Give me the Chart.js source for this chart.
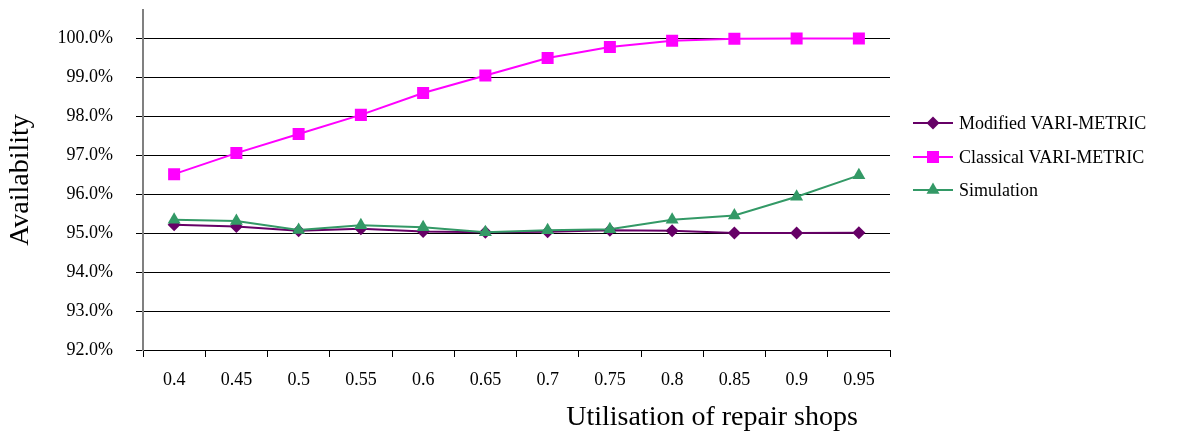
<!DOCTYPE html>
<html>
<head>
<meta charset="utf-8">
<script src="https://cdn.jsdelivr.net/npm/chart.js@4/dist/chart.umd.min.js"></script>
<style>
  html,body{margin:0;padding:0;background:#fff}
  #wrap{position:relative;width:1186px;height:434px}
</style>
</head>
<body>
<div id="wrap"><canvas id="chart" width="1186" height="434"></canvas></div>
<script>
// ── Data ──
var categories=['0.4','0.45','0.5','0.55','0.6','0.65','0.7','0.75','0.8','0.85','0.9','0.95'];
var modifiedVals=[95.21,95.17,95.06,95.11,95.04,95.02,95.03,95.07,95.06,95.00,95.00,95.01];
var classicalVals=[96.51,97.05,97.54,98.03,98.59,99.04,99.49,99.77,99.93,99.98,99.99,99.99];
var simulationVals=[95.34,95.31,95.08,95.20,95.15,95.02,95.07,95.10,95.34,95.45,95.93,96.48];
var yTicks=[92,93,94,95,96,97,98,99,100];
var seriesNames=['Modified VARI-METRIC','Classical VARI-METRIC','Simulation'];
var yTitle='Availability', xTitle='Utilisation of repair shops';

var SERIF='"Liberation Serif","Times New Roman",serif';
var COLORS=['#660066','#FF00FF','#339966'];
var STYLES=['rectRot','rect','triangle'];
var RADII=[6.5,8.5,7.5];

// ── Custom legend + axis titles (Excel look) ──
var extrasPlugin={
  id:'extras',
  afterDraw:function(chart){
    var ctx=chart.ctx;
    ctx.save();
    ctx.fillStyle='#000';
    ctx.font='28px '+SERIF;
    ctx.textAlign='center';ctx.textBaseline='middle';
    ctx.fillText(xTitle,712,418);
    ctx.translate(21,180);ctx.rotate(-Math.PI/2);
    ctx.fillText(yTitle,0,0);
    ctx.restore();

    var ys=[123,157,190];
    seriesNames.forEach(function(name,i){
      var y=ys[i];
      ctx.save();
      ctx.strokeStyle=COLORS[i];ctx.lineWidth=2;
      ctx.beginPath();ctx.moveTo(913,y);ctx.lineTo(953,y);ctx.stroke();
      ctx.fillStyle=COLORS[i];
      Chart.helpers.drawPoint(ctx,{pointStyle:STYLES[i],radius:RADII[i],borderWidth:0},933,y);
      ctx.fillStyle='#000';
      ctx.font='18px '+SERIF;
      ctx.textAlign='left';ctx.textBaseline='middle';
      ctx.fillText(name,959,y+1);
      ctx.restore();
    });
  }
};

function mkSet(i,vals,order){
  return {
    label:seriesNames[i],data:vals,order:order,
    borderColor:COLORS[i],backgroundColor:COLORS[i],borderWidth:2,
    pointStyle:STYLES[i],pointRadius:RADII[i],pointHoverRadius:RADII[i],
    pointBackgroundColor:COLORS[i],pointBorderColor:COLORS[i],pointBorderWidth:0,
    tension:0,fill:false
  };
}

new Chart(document.getElementById('chart'),{
  type:'line',
  data:{
    labels:categories,
    datasets:[mkSet(0,modifiedVals,3),mkSet(1,classicalVals,2),mkSet(2,simulationVals,1)]
  },
  plugins:[extrasPlugin],
  options:{
    responsive:false,animation:false,
    layout:{padding:{left:0,right:296,top:10,bottom:0}},
    plugins:{legend:{display:false},tooltip:{enabled:false}},
    scales:{
      x:{
        type:'category',offset:true,
        grid:{offset:true,drawOnChartArea:false,drawTicks:true,tickLength:7,color:'#000',lineWidth:1},
        border:{display:true,color:'#000',width:1},
        ticks:{color:'#000',font:{family:SERIF,size:18},padding:12,maxRotation:0,autoSkip:false},
        afterFit:function(s){s.height=84;s.paddingLeft=0;s.paddingRight=0}
      },
      y:{
        min:92,max:100.72,
        afterBuildTicks:function(s){s.ticks=yTicks.map(function(v){return {value:v}})},
        grid:{color:'#000',lineWidth:1,drawTicks:true,tickLength:7},
        border:{display:true,color:'#808080',width:2},
        ticks:{color:'#000',font:{family:SERIF,size:18},padding:23,
          callback:function(v){return Number(v).toFixed(1)+'%'}},
        afterFit:function(s){s.width=143;s.paddingTop=0;s.paddingBottom=0}
      }
    }
  }
});
</script>
</body>
</html>
